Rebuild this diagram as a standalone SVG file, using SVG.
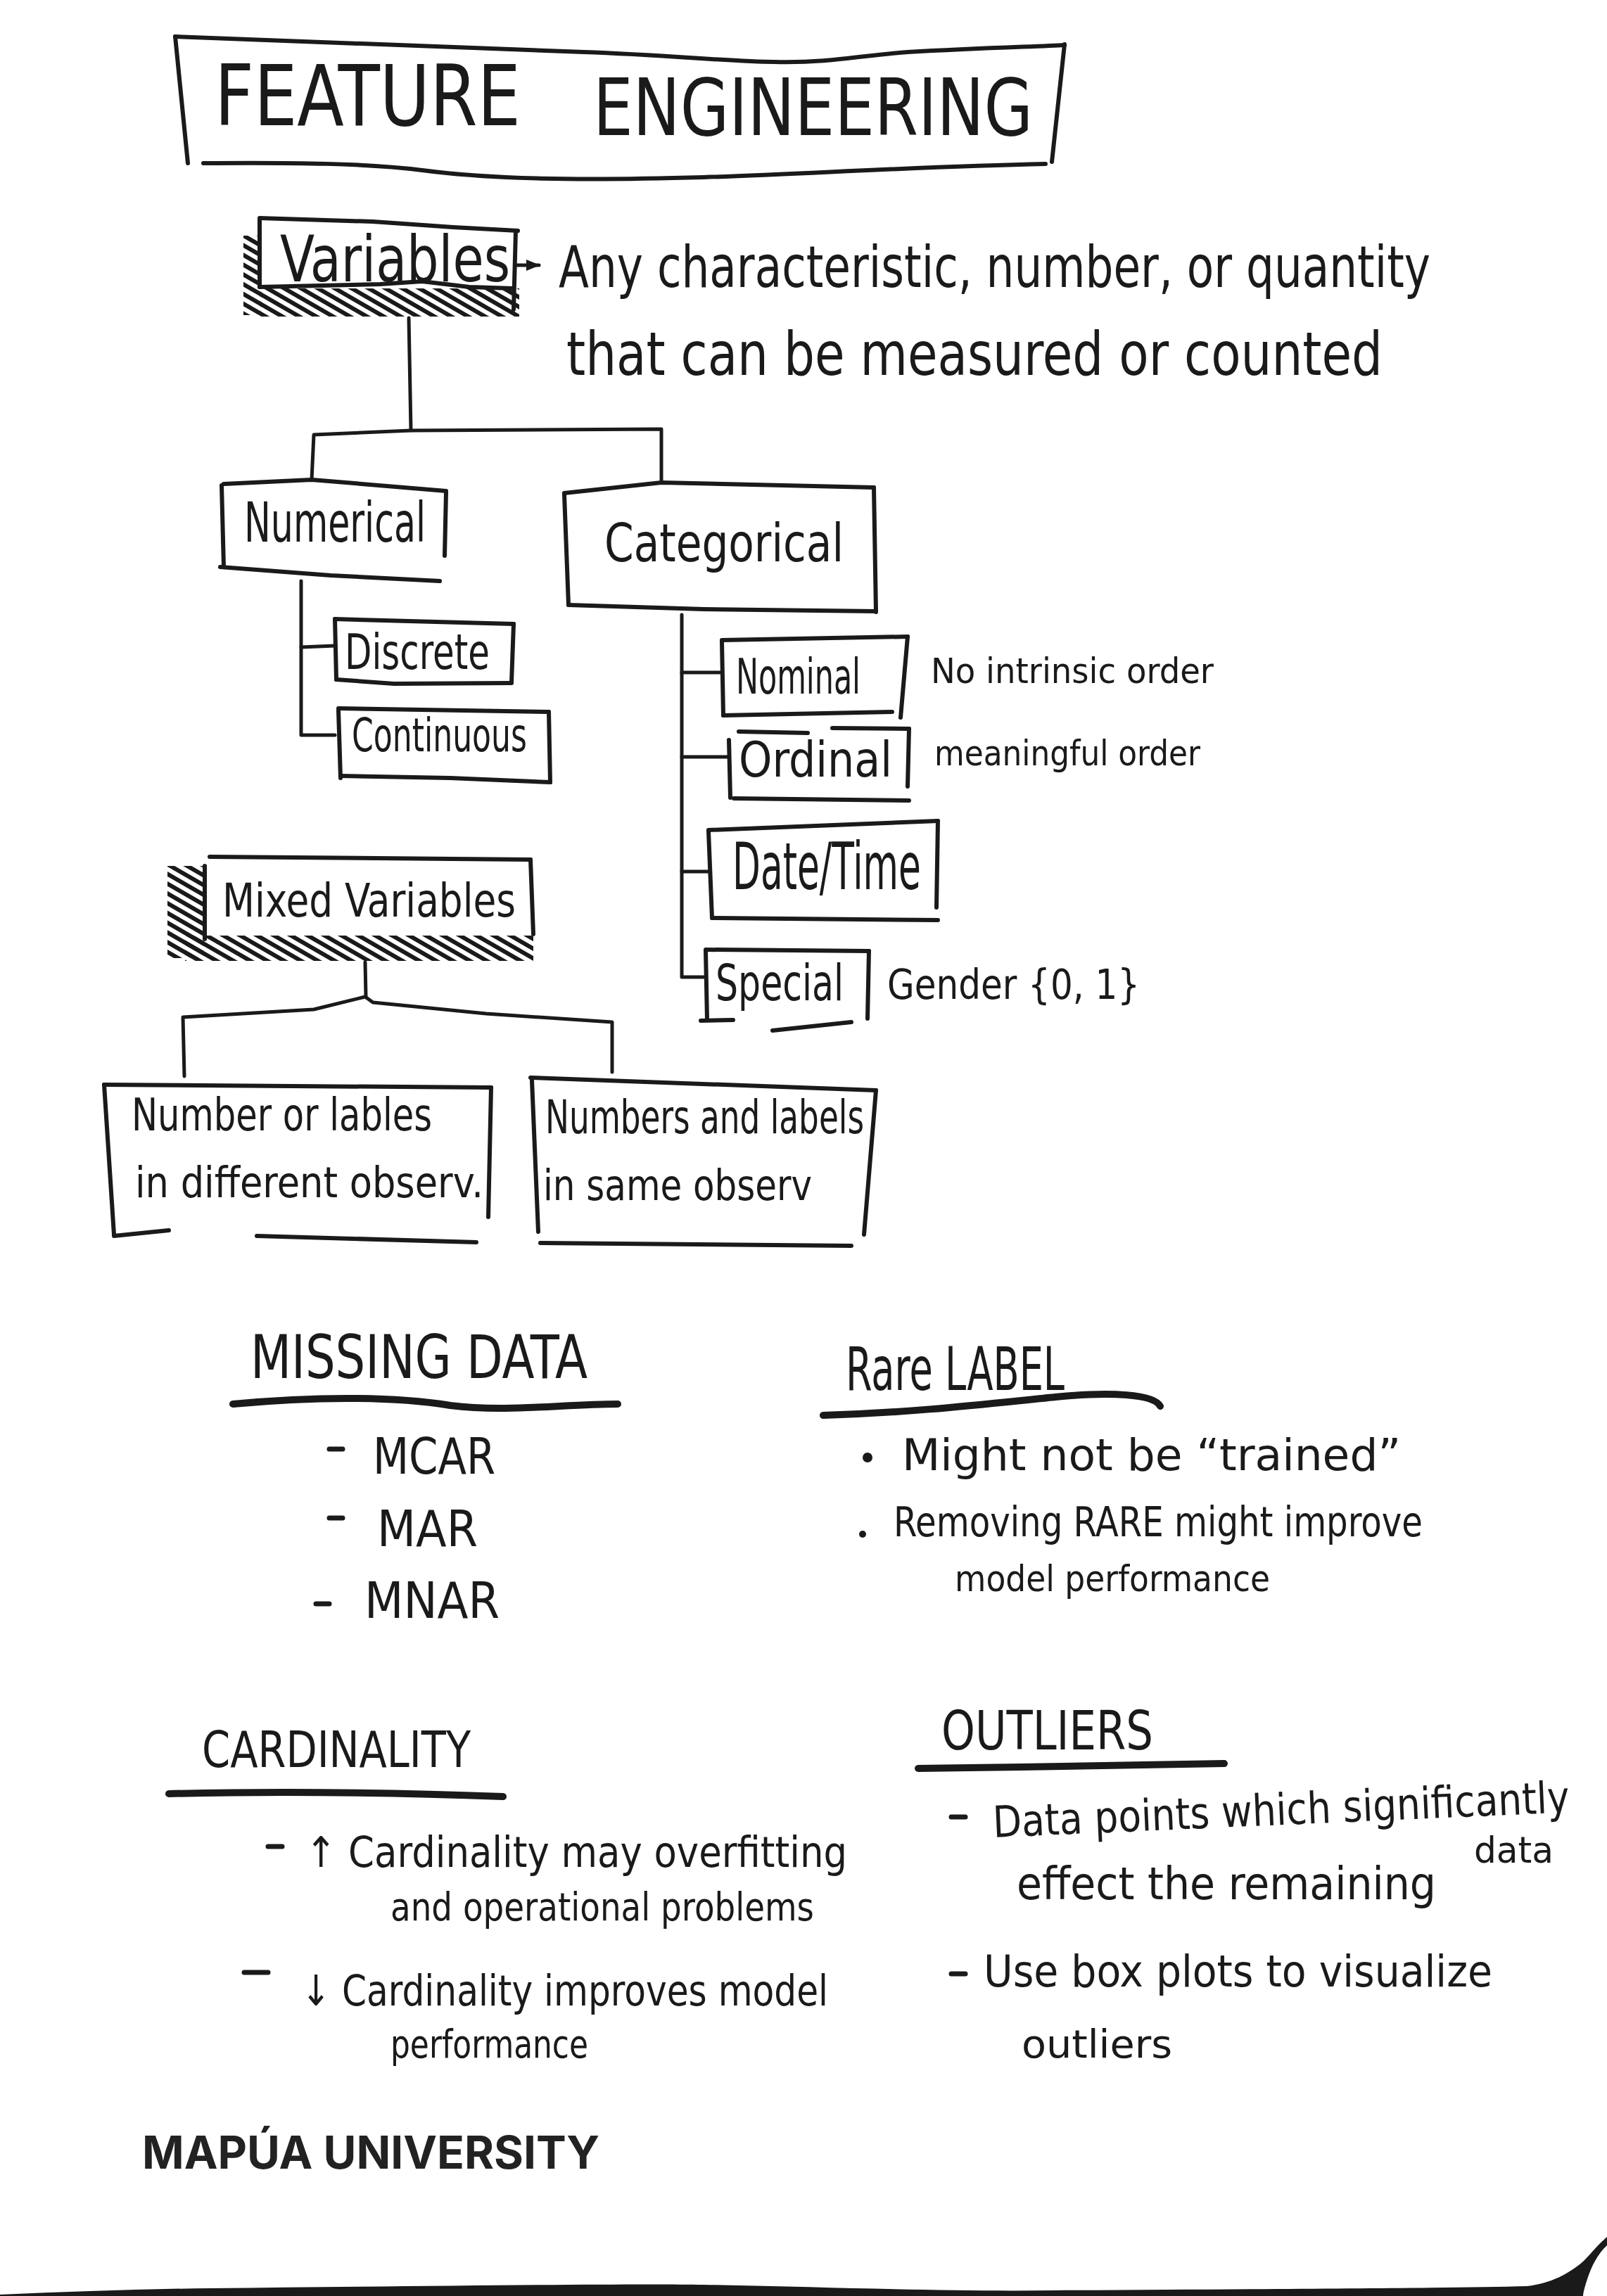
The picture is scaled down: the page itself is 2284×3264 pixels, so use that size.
<svg xmlns="http://www.w3.org/2000/svg" width="2284" height="3264" viewBox="0 0 2284 3264">
<style>
.t{font-family:"Liberation Sans Narrow","DejaVu Sans Condensed","Liberation Sans",sans-serif;fill:#1a1a1a;}
.ln{fill:none;stroke:#1a1a1a;stroke-width:6;stroke-linecap:round;stroke-linejoin:round;}
.cn{fill:none;stroke:#1a1a1a;stroke-width:5;stroke-linecap:round;stroke-linejoin:round;}
.ul{fill:none;stroke:#1a1a1a;stroke-width:10;stroke-linecap:round;}
.dash{stroke:#1a1a1a;stroke-width:7;stroke-linecap:round;}
</style>
<defs>
<pattern id="hatch" width="12" height="12" patternUnits="userSpaceOnUse" patternTransform="rotate(-60)">
<line x1="3" y1="0" x2="3" y2="12" stroke="#1a1a1a" stroke-width="6"/>
</pattern>
<marker id="arr" viewBox="0 0 10 10" refX="9" refY="5" markerWidth="4" markerHeight="4" orient="auto">
<path d="M0 1 L10 5 L0 9 z" fill="#1a1a1a"/>
</marker>
</defs>
<rect width="2284" height="3264" fill="#ffffff"/>

<g id="title">
<path class="ln" d="M249 52 C450 58 640 66 830 74 C950 78 1040 88 1100 88 C1180 90 1230 78 1290 74 C1400 68 1480 66 1513 64" stroke-width="8"/>
<path class="ln" d="M249 52 L267 232"/>
<path class="ln" d="M1513 63 L1495 230"/>
<path class="ln" d="M289 232 C420 231 520 232 600 242 C700 255 820 257 1000 252 C1150 247 1300 237 1486 233" stroke-width="8"/>
<text class="t" x="305" y="178" font-size="120" textLength="435" lengthAdjust="spacingAndGlyphs">FEATURE</text>
<text class="t" x="843" y="192" font-size="112" textLength="625" lengthAdjust="spacingAndGlyphs">ENGINEERING</text>
</g>

<g id="connectors">
<path class="cn" d="M733 377 L766 377" marker-end="url(#arr)"/>
<path class="cn" d="M581 452 L584 612"/>
<path class="cn" d="M443 682 L446 618 L584 612 L940 610 L940 686"/>
<path class="cn" d="M428 826 L428 1045 L476 1045"/>
<path class="cn" d="M428 920 L476 918"/>
<path class="cn" d="M969 874 L969 1389 L1000 1389"/>
<path class="cn" d="M969 956 L1024 956"/>
<path class="cn" d="M969 1076 L1034 1076"/>
<path class="cn" d="M969 1239 L1007 1239"/>
<path class="cn" d="M519 1368 L520 1417"/>
<path class="cn" d="M262 1530 L260 1446 L446 1435 L519 1417 L530 1425 L691 1441 L870 1453 L870 1524"/>
</g>

<g id="variables">
<rect x="346" y="335" width="26" height="113" fill="url(#hatch)"/>
<rect x="369" y="410" width="369" height="40" fill="url(#hatch)"/>
<path class="ln" d="M369 310 L530 315 L644 323 L736 328"/>
<path class="ln" d="M369 312 L369 408"/>
<path class="ln" d="M733 328 L730 440"/>
<path class="ln" d="M369 408 L540 404 L600 400 L667 408 L730 410"/>
<text class="t" x="398" y="400" font-size="90" textLength="327" lengthAdjust="spacingAndGlyphs">Variables</text>
</g>

<g id="definition">
<text class="t" x="794" y="408" font-size="82" textLength="1239" lengthAdjust="spacingAndGlyphs">Any characteristic, number, or quantity</text>
<text class="t" x="805" y="533" font-size="85" textLength="1160" lengthAdjust="spacingAndGlyphs">that can be measured or counted</text>
</g>

<g id="numerical">
<path class="ln" d="M318 688 L443 682 L634 698"/>
<path class="ln" d="M315 690 L318 806"/>
<path class="ln" d="M634 700 L632 790"/>
<path class="ln" d="M313 806 L470 818 L625 826"/>
<text class="t" x="347" y="770" font-size="78" textLength="258" lengthAdjust="spacingAndGlyphs">Numerical</text>
</g>

<g id="categorical">
<path class="ln" d="M802 701 L940 686 L1242 693"/>
<path class="ln" d="M802 703 L808 860"/>
<path class="ln" d="M1242 693 L1245 870"/>
<path class="ln" d="M808 860 L1000 866 L1245 869"/>
<text class="t" x="859" y="798" font-size="75" textLength="340" lengthAdjust="spacingAndGlyphs">Categorical</text>
</g>

<g id="discrete">
<path class="ln" d="M476 880 L730 887"/>
<path class="ln" d="M476 880 L478 966"/>
<path class="ln" d="M730 887 L727 970"/>
<path class="ln" d="M478 966 L560 972 L727 971"/>
<text class="t" x="490" y="951" font-size="70" textLength="206" lengthAdjust="spacingAndGlyphs">Discrete</text>
</g>

<g id="continuous">
<path class="ln" d="M481 1007 L780 1012"/>
<path class="ln" d="M481 1010 L484 1106"/>
<path class="ln" d="M780 1012 L782 1112"/>
<path class="ln" d="M484 1103 L640 1106 L782 1112"/>
<text class="t" x="500" y="1068" font-size="66" textLength="249" lengthAdjust="spacingAndGlyphs">Continuous</text>
</g>

<g id="nominal">
<path class="ln" d="M1026 910 L1290 905"/>
<path class="ln" d="M1026 912 L1028 1017"/>
<path class="ln" d="M1290 905 L1280 1020"/>
<path class="ln" d="M1028 1017 L1268 1012"/>
<text class="t" x="1046" y="986" font-size="70" textLength="177" lengthAdjust="spacingAndGlyphs">Nominal</text>
<text class="t" x="1323" y="971" font-size="50" textLength="402" lengthAdjust="spacingAndGlyphs">No intrinsic order</text>
</g>

<g id="ordinal">
<path class="ln" d="M1050 1040 L1148 1042"/>
<path class="ln" d="M1183 1035 L1292 1036"/>
<path class="ln" d="M1036 1052 L1038 1134"/>
<path class="ln" d="M1292 1036 L1290 1118"/>
<path class="ln" d="M1043 1135 L1292 1138"/>
<text class="t" x="1050" y="1104" font-size="70" textLength="218" lengthAdjust="spacingAndGlyphs">Ordinal</text>
<text class="t" x="1328" y="1088" font-size="50" textLength="378" lengthAdjust="spacingAndGlyphs">meaningful order</text>
</g>

<g id="datetime">
<path class="ln" d="M1007 1180 L1333 1167"/>
<path class="ln" d="M1007 1182 L1012 1305"/>
<path class="ln" d="M1333 1167 L1331 1290"/>
<path class="ln" d="M1012 1305 L1333 1308"/>
<text class="t" x="1041" y="1264" font-size="92" textLength="268" lengthAdjust="spacingAndGlyphs">Date/Time</text>
</g>

<g id="special">
<path class="ln" d="M1003 1350 L1235 1352"/>
<path class="ln" d="M1003 1352 L1005 1450"/>
<path class="ln" d="M1235 1352 L1233 1448"/>
<path class="ln" d="M996 1451 L1042 1450"/>
<path class="ln" d="M1098 1465 L1210 1453"/>
<text class="t" x="1017" y="1422" font-size="72" textLength="182" lengthAdjust="spacingAndGlyphs">Special</text>
<text class="t" x="1261" y="1420" font-size="58" textLength="359" lengthAdjust="spacingAndGlyphs">Gender {0, 1}</text>
</g>

<g id="mixed-variables">
<rect x="238" y="1231" width="52" height="131" fill="url(#hatch)"/>
<rect x="263" y="1330" width="495" height="36" fill="url(#hatch)"/>
<path class="ln" d="M298 1218 L754 1222"/>
<path class="ln" d="M754 1222 L758 1328"/>
<path class="ln" d="M291 1231 L291 1335"/>
<text class="t" x="316" y="1303" font-size="66" textLength="417" lengthAdjust="spacingAndGlyphs">Mixed Variables</text>
</g>

<g id="mixed-different">
<path class="ln" d="M148 1542 L698 1546"/>
<path class="ln" d="M148 1542 L162 1755"/>
<path class="ln" d="M698 1546 L694 1730"/>
<path class="ln" d="M162 1757 L240 1749"/>
<path class="ln" d="M365 1757 L677 1766"/>
<text class="t" x="187" y="1607" font-size="64" textLength="427" lengthAdjust="spacingAndGlyphs">Number or lables</text>
<text class="t" x="192" y="1702" font-size="60" textLength="495" lengthAdjust="spacingAndGlyphs">in different observ.</text>
</g>

<g id="mixed-same">
<path class="ln" d="M754 1532 L1245 1550"/>
<path class="ln" d="M756 1536 L765 1751"/>
<path class="ln" d="M1245 1550 L1228 1755"/>
<path class="ln" d="M768 1767 L1210 1771"/>
<text class="t" x="775" y="1611" font-size="66" textLength="453" lengthAdjust="spacingAndGlyphs">Numbers and labels</text>
<text class="t" x="772" y="1706" font-size="60" textLength="382" lengthAdjust="spacingAndGlyphs">in same observ</text>
</g>

<g id="missing-data">
<text class="t" x="356" y="1959" font-size="86" textLength="479" lengthAdjust="spacingAndGlyphs">MISSING DATA</text>
<path class="ul" d="M331 1996 C450 1985 560 1985 640 1998 C720 2008 800 1996 878 1996"/>
<line class="dash" x1="468" y1="2060" x2="487" y2="2060"/>
<text class="t" x="530" y="2095" font-size="72" textLength="174" lengthAdjust="spacingAndGlyphs">MCAR</text>
<line class="dash" x1="468" y1="2158" x2="487" y2="2158"/>
<text class="t" x="536" y="2198" font-size="72" textLength="143" lengthAdjust="spacingAndGlyphs">MAR</text>
<line class="dash" x1="449" y1="2280" x2="468" y2="2280"/>
<text class="t" x="518" y="2300" font-size="72" textLength="192" lengthAdjust="spacingAndGlyphs">MNAR</text>
</g>

<g id="rare-label">
<text class="t" x="1202" y="1976" font-size="86" textLength="311" lengthAdjust="spacingAndGlyphs">Rare LABEL</text>
<path class="ul" d="M1170 2012 C1300 2008 1400 1996 1500 1986 C1580 1978 1640 1982 1649 1999"/>
<circle cx="1233" cy="2072" r="7" fill="#1a1a1a"/>
<text class="t" x="1282" y="2090" font-size="62" textLength="709" lengthAdjust="spacingAndGlyphs">Might not be “trained”</text>
<circle cx="1226" cy="2181" r="5" fill="#1a1a1a"/>
<text class="t" x="1270" y="2184" font-size="58" textLength="752" lengthAdjust="spacingAndGlyphs">Removing RARE might improve</text>
<text class="t" x="1357" y="2262" font-size="52" textLength="448" lengthAdjust="spacingAndGlyphs">model performance</text>
</g>

<g id="cardinality">
<text class="t" x="287" y="2512" font-size="72" textLength="382" lengthAdjust="spacingAndGlyphs">CARDINALITY</text>
<path class="ul" d="M240 2550 C400 2546 550 2548 715 2554"/>
<line class="dash" x1="381" y1="2625" x2="401" y2="2625"/>
<text class="t" x="434" y="2654" font-size="60" textLength="770" lengthAdjust="spacingAndGlyphs">↑ Cardinality may overfitting</text>
<text class="t" x="555" y="2730" font-size="56" textLength="602" lengthAdjust="spacingAndGlyphs">and operational problems</text>
<line class="dash" x1="347" y1="2804" x2="381" y2="2804"/>
<text class="t" x="428" y="2851" font-size="60" textLength="749" lengthAdjust="spacingAndGlyphs">↓ Cardinality improves model</text>
<text class="t" x="555" y="2925" font-size="56" textLength="281" lengthAdjust="spacingAndGlyphs">performance</text>
</g>

<g id="outliers">
<text class="t" x="1338" y="2487" font-size="76" textLength="301" lengthAdjust="spacingAndGlyphs">OUTLIERS</text>
<path class="ul" d="M1305 2514 C1450 2512 1600 2510 1740 2507" stroke-width="9"/>
<line class="dash" x1="1352" y1="2583" x2="1372" y2="2583"/>
<text class="t" x="1412" y="2612" font-size="62" textLength="820" lengthAdjust="spacingAndGlyphs" transform="rotate(-2.5 1412 2612)">Data points which significantly</text>
<text class="t" x="1445" y="2700" font-size="64" textLength="596" lengthAdjust="spacingAndGlyphs">effect the remaining</text>
<text class="t" x="2095" y="2648" font-size="52" textLength="113" lengthAdjust="spacingAndGlyphs">data</text>
<line class="dash" x1="1352" y1="2806" x2="1372" y2="2806"/>
<text class="t" x="1398" y="2824" font-size="62" textLength="723" lengthAdjust="spacingAndGlyphs">Use box plots to visualize</text>
<text class="t" x="1452" y="2925" font-size="56" textLength="214" lengthAdjust="spacingAndGlyphs">outliers</text>
</g>

<g id="footer">
<text x="202" y="3083" font-family="Inter,'Open Sans','Liberation Sans',sans-serif" font-weight="700" font-size="64" fill="#222" textLength="650" lengthAdjust="spacingAndGlyphs">MAPÚA UNIVERSITY</text>
<path d="M0 3264 L0 3262 C100 3258 200 3254 300 3253 C600 3250 900 3246 1000 3248 C1200 3252 1350 3258 1500 3256 C1800 3254 2050 3253 2170 3250 C2205 3246 2230 3232 2250 3215 C2262 3203 2272 3190 2284 3180 L2284 3192 C2270 3205 2262 3222 2256 3240 C2252 3252 2250 3260 2250 3264 Z" fill="#1a1a1a"/>
</g>
</svg>
